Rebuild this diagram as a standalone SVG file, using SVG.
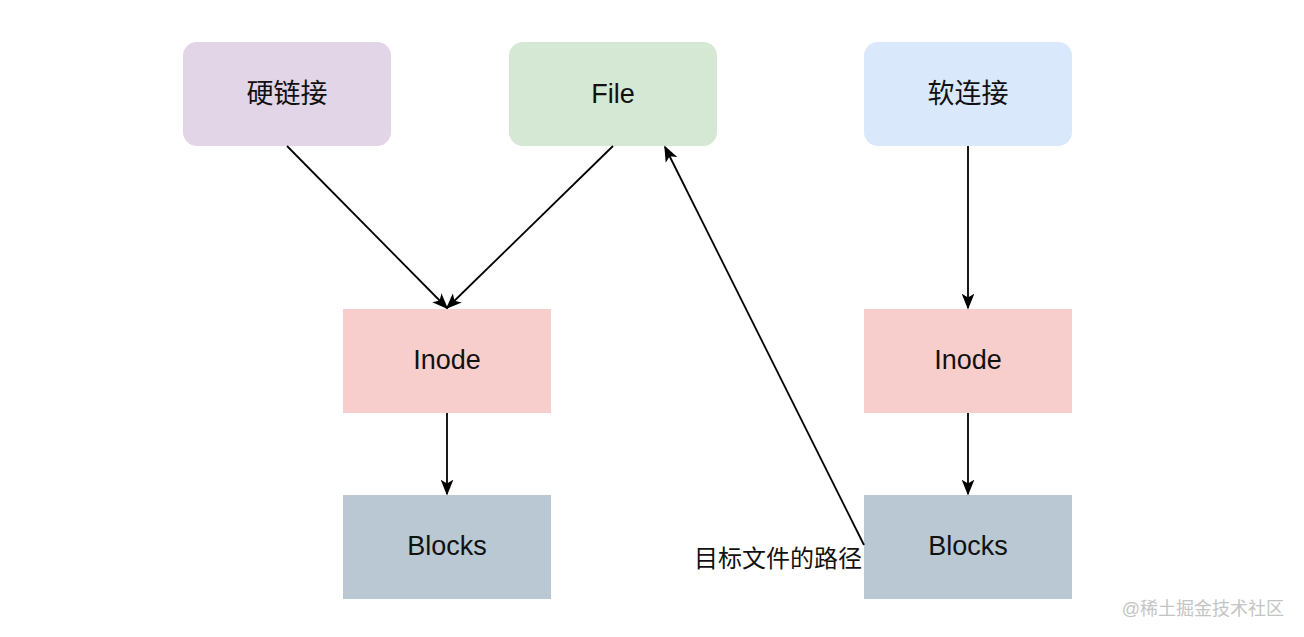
<svg xmlns="http://www.w3.org/2000/svg" width="1304" height="637" viewBox="0 0 1304 637">
<style>
.t{font-family:"Liberation Sans","Noto Sans CJK SC",sans-serif;font-size:27px;fill:#111;text-anchor:middle;dominant-baseline:central}
.e{fill:none;stroke:#000;stroke-width:1.8;marker-end:url(#a)}
</style>
<defs>
<marker id="a" viewBox="0 0 20 16" refX="18" refY="8" markerWidth="16" markerHeight="13" markerUnits="userSpaceOnUse" orient="auto">
<path d="M0,0 L20,8 L0,16 L5,8 Z" fill="#000"/>
</marker>
</defs>
<rect width="1304" height="637" fill="#fff"/>
<g id="hardlink"><rect x="183" y="42" width="208" height="104" rx="14" fill="#e1d5e7"/><text class="t" x="287" y="94">硬链接</text></g>
<g id="file"><rect x="509" y="42" width="208" height="104" rx="14" fill="#d5e8d4"/><text class="t" x="613" y="94">File</text></g>
<g id="softlink"><rect x="864" y="42" width="208" height="104" rx="14" fill="#dae8fc"/><text class="t" x="968" y="94">软连接</text></g>
<g id="inode1"><rect x="343" y="309" width="208" height="104" fill="#f8cecc"/><text class="t" x="447" y="360">Inode</text></g>
<g id="blocks1"><rect x="343" y="495" width="208" height="104" fill="#bac8d3"/><text class="t" x="447" y="546">Blocks</text></g>
<g id="inode2"><rect x="864" y="309" width="208" height="104" fill="#f8cecc"/><text class="t" x="968" y="360">Inode</text></g>
<g id="blocks2"><rect x="864" y="495" width="208" height="104" fill="#bac8d3"/><text class="t" x="968" y="546">Blocks</text></g>
<g id="connectors">
<path class="e" d="M287,146 L447,308"/>
<path class="e" d="M613,146 L447,308"/>
<path class="e" d="M447,413 L447,494"/>
<path class="e" d="M968,146 L968,308"/>
<path class="e" d="M968,413 L968,494"/>
<path class="e" d="M864,545 L665,147"/>
<text class="t" x="778" y="558" style="font-size:24px">目标文件的路径</text>
</g>
<text x="1284" y="609" style="font-family:'Liberation Sans','Noto Sans CJK SC',sans-serif;font-size:18px;fill:#c4c4c4;text-anchor:end;dominant-baseline:central">@稀土掘金技术社区</text>
</svg>
